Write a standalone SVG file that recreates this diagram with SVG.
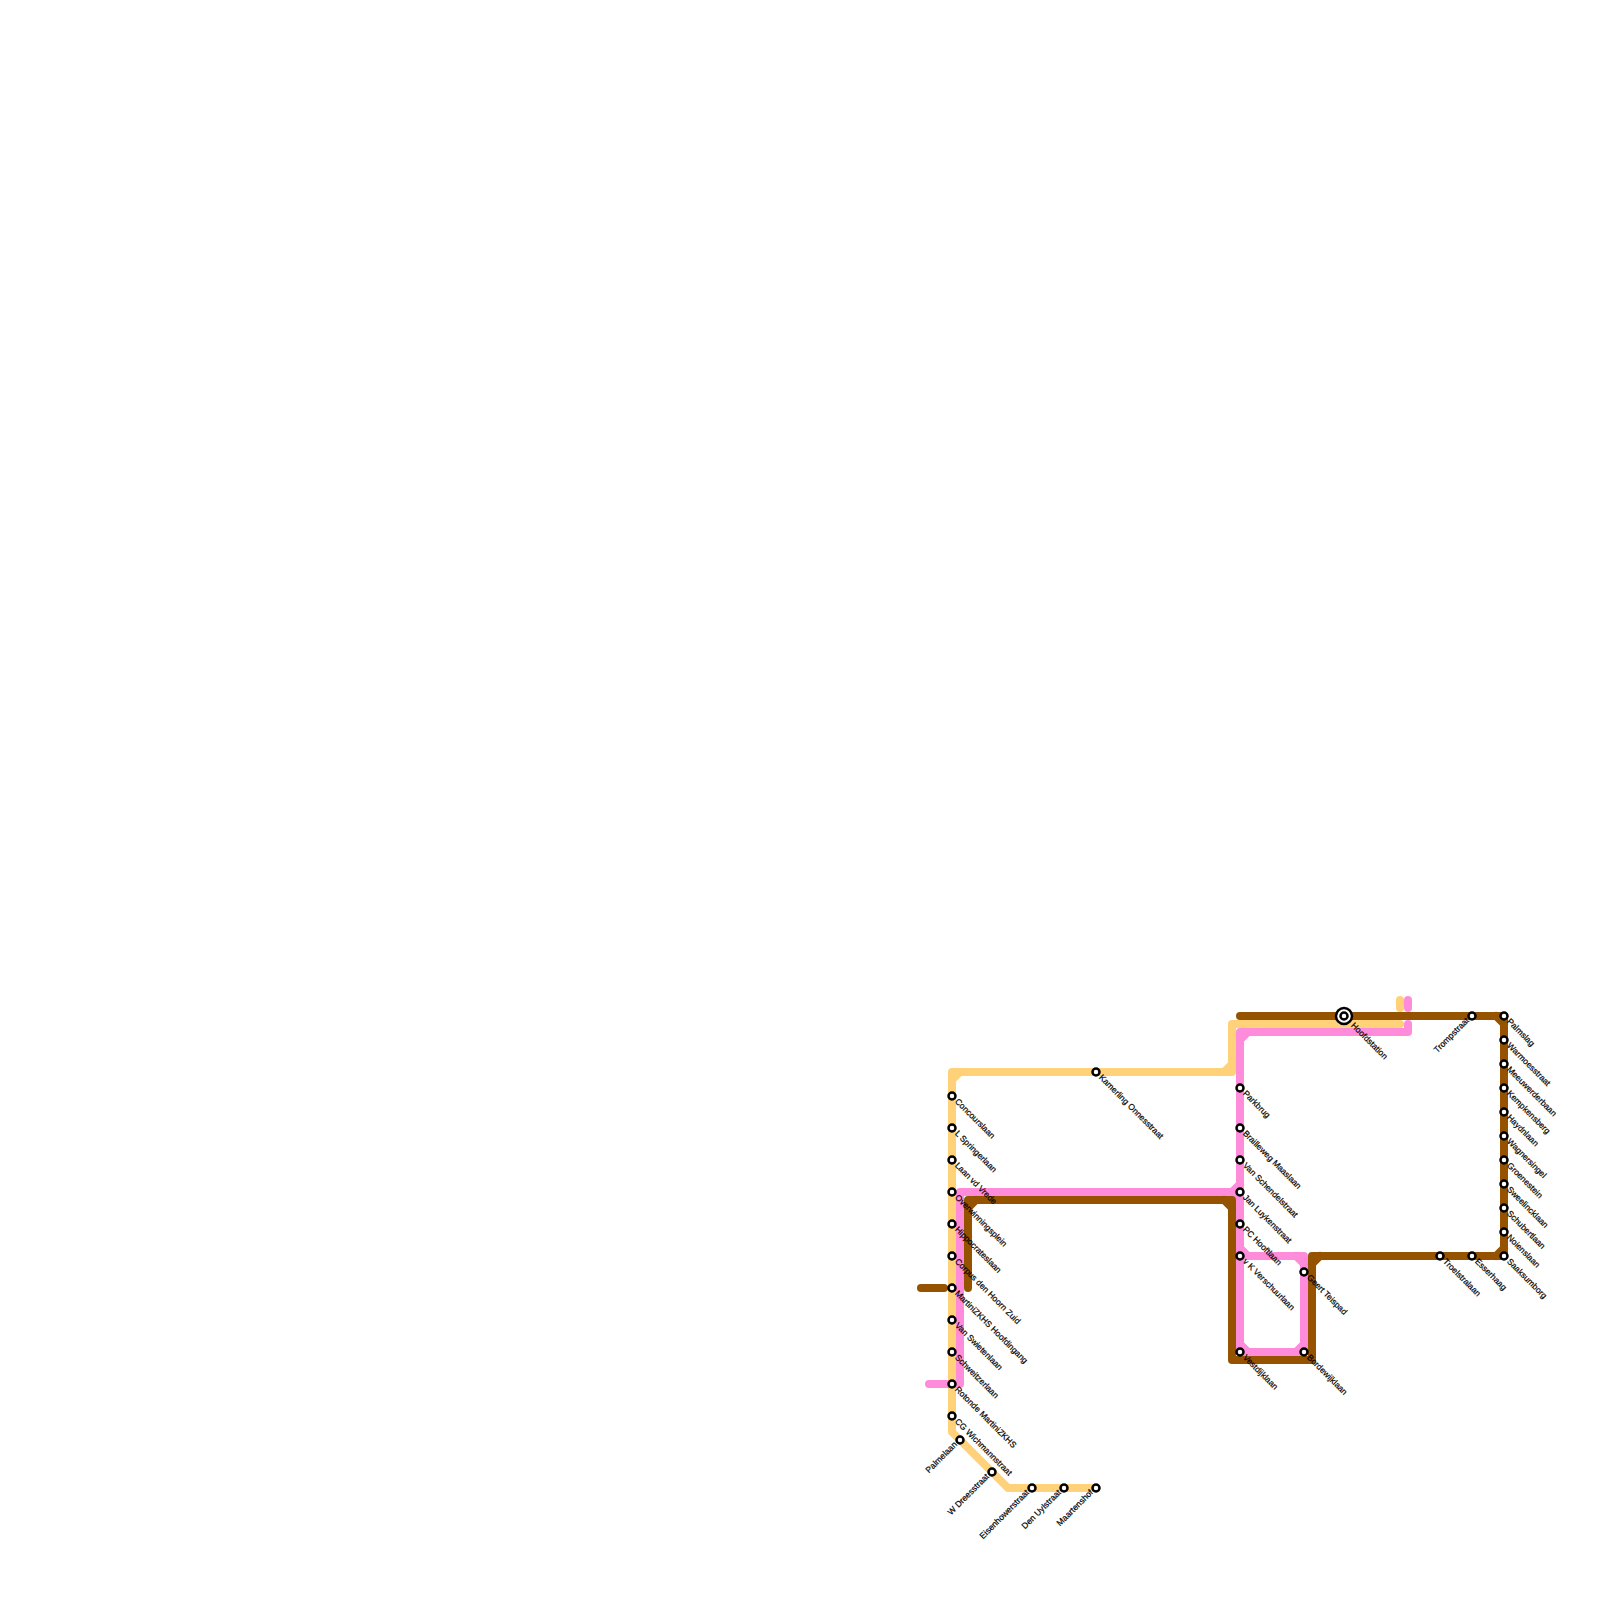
<svg xmlns="http://www.w3.org/2000/svg" width="1600" height="1600" viewBox="0 0 1600 1600">
<style>
.l{fill:none;stroke-width:8;stroke-linecap:round;stroke-linejoin:round}
.y{stroke:#ffd27a}.p{stroke:#ff8cdb}.b{stroke:#955300}
.st{fill:#fff;stroke:#000;stroke-width:2.5}
text{font-family:"Liberation Sans",Arial,sans-serif;font-size:8.5px;fill:#000;stroke:#000;stroke-width:.2;text-rendering:geometricPrecision}
.e{text-anchor:end}
</style>
<rect width="1600" height="1600" fill="#fff"/>
<g id="connectors">
<g id="line-yellow">
<path class="l y" d="M1096 1488H1008L952 1432V1072H1232V1024H1400"/>
<path class="l y" d="M952 1080L960 1072M1224 1072L1232 1064"/>
<path class="l y" d="M1400 1000V1008"/>
</g>
<g id="line-pink">
<path class="l p" d="M929 1384H960V1192H1240"/>
<path class="l p" d="M1224 1192H1232L1240 1184M1232 1192L1240 1200"/>
<path class="l p" d="M1408 1024V1032H1240V1352H1304V1256H1240"/>
<path class="l p" d="M1240 1040L1248 1032M1240 1248L1248 1256M1296 1256L1304 1264M1240 1344L1248 1352M1296 1352L1304 1344"/>
<path class="l p" d="M1408 1000V1008"/>
</g>
<g id="line-brown">
<path class="l b" d="M921 1288H944"/>
<path class="l b" d="M968 1288V1200H1232V1360H1312V1256H1504V1016H1240"/>
<path class="l b" d="M968 1208L976 1200M1224 1200L1232 1208M1312 1264L1320 1256M1496 1256L1504 1248M1496 1016L1504 1024"/>
</g>
</g>
<g id="n-concourslaan"><circle class="st" cx="952" cy="1096" r="3.5"/><text transform="translate(954.5 1102) rotate(45)">Concourslaan</text></g>
<g id="n-springerlaan"><circle class="st" cx="952" cy="1128" r="3.5"/><text transform="translate(954.5 1134) rotate(45)">L Springerlaan</text></g>
<g id="n-laanvdvrede"><circle class="st" cx="952" cy="1160" r="3.5"/><text transform="translate(954.5 1166) rotate(45)">Laan vd Vrede</text></g>
<g id="n-overwinningsplein"><circle class="st" cx="952" cy="1192" r="3.5"/><text transform="translate(954.5 1198) rotate(45)">Overwinningsplein</text></g>
<g id="n-hippocrateslaan"><circle class="st" cx="952" cy="1224" r="3.5"/><text transform="translate(954.5 1230) rotate(45)">Hippocrateslaan</text></g>
<g id="n-corpus"><circle class="st" cx="952" cy="1256" r="3.5"/><text transform="translate(954.5 1262) rotate(45)">Corpus den Hoorn Zuid</text></g>
<g id="n-hoofdingang"><circle class="st" cx="952" cy="1288" r="3.5"/><text transform="translate(954.5 1294) rotate(45)">MartiniZKHS Hoofdingang</text></g>
<g id="n-vanswieten"><circle class="st" cx="952" cy="1320" r="3.5"/><text transform="translate(954.5 1326) rotate(45)">Van Swietenlaan</text></g>
<g id="n-schweitzer"><circle class="st" cx="952" cy="1352" r="3.5"/><text transform="translate(954.5 1358) rotate(45)">Schweitzerlaan</text></g>
<g id="n-rotonde"><circle class="st" cx="952" cy="1384" r="3.5"/><text transform="translate(954.5 1390) rotate(45)">Rotonde MartiniZKHS</text></g>
<g id="n-wichmann"><circle class="st" cx="952" cy="1416" r="3.5"/><text transform="translate(954.5 1422) rotate(45)">CG Wichmannstraat</text></g>
<g id="n-palmelaan"><circle class="st" cx="960" cy="1440" r="3.5"/><text class="e" transform="translate(957.5 1445) rotate(-45)">Palmelaan</text></g>
<g id="n-dreesstraat"><circle class="st" cx="992" cy="1472" r="3.5"/><text class="e" transform="translate(989.5 1477) rotate(-45)">W Dreesstraat</text></g>
<g id="n-eisenhower"><circle class="st" cx="1032" cy="1488" r="3.5"/><text class="e" transform="translate(1029.5 1493) rotate(-45)">Eisenhowerstraat</text></g>
<g id="n-denuyl"><circle class="st" cx="1064" cy="1488" r="3.5"/><text class="e" transform="translate(1061.5 1493) rotate(-45)">Den Uylstraat</text></g>
<g id="n-maartenshof"><circle class="st" cx="1096" cy="1488" r="3.5"/><text class="e" transform="translate(1093.5 1493) rotate(-45)">Maartenshof</text></g>
<g id="n-kamerling"><circle class="st" cx="1096" cy="1072" r="3.5"/><text transform="translate(1098.5 1078) rotate(45)">Kamerling Onnesstraat</text></g>
<g id="n-parkbrug"><circle class="st" cx="1240" cy="1088" r="3.5"/><text transform="translate(1242.5 1094) rotate(45)">Parkbrug</text></g>
<g id="n-brailleweg"><circle class="st" cx="1240" cy="1128" r="3.5"/><text transform="translate(1242.5 1134) rotate(45)">Brailleweg Maaslaan</text></g>
<g id="n-schendel"><circle class="st" cx="1240" cy="1160" r="3.5"/><text transform="translate(1242.5 1166) rotate(45)">Van Schendelstraat</text></g>
<g id="n-luyken"><circle class="st" cx="1240" cy="1192" r="3.5"/><text transform="translate(1242.5 1198) rotate(45)">Jan Luykenstraat</text></g>
<g id="n-hooft"><circle class="st" cx="1240" cy="1224" r="3.5"/><text transform="translate(1242.5 1230) rotate(45)">PC Hooftlaan</text></g>
<g id="n-verschuur"><circle class="st" cx="1240" cy="1256" r="3.5"/><text transform="translate(1242.5 1262) rotate(45)">v K Verschuurlaan</text></g>
<g id="n-vestdijk"><circle class="st" cx="1240" cy="1352" r="3.5"/><text transform="translate(1242.5 1358) rotate(45)">Vestdijklaan</text></g>
<g id="n-geert"><circle class="st" cx="1304" cy="1272" r="3.5"/><text transform="translate(1306.5 1278) rotate(45)">Geert Teispad</text></g>
<g id="n-bordewijk"><circle class="st" cx="1304" cy="1352" r="3.5"/><text transform="translate(1306.5 1358) rotate(45)">Bordewijklaan</text></g>
<g id="n-hoofdstation"><circle class="st" cx="1344" cy="1016" r="8"/><circle class="st" cx="1344" cy="1016" r="3.5"/><text transform="translate(1350.5 1026) rotate(45)">Hoofdstation</text></g>
<g id="n-trompstraat"><circle class="st" cx="1472" cy="1016" r="3.5"/><text class="e" transform="translate(1469.5 1021) rotate(-45)">Trompstraat</text></g>
<g id="n-palmslag"><circle class="st" cx="1504" cy="1016" r="3.5"/><text transform="translate(1506.5 1022) rotate(45)">Palmslag</text></g>
<g id="n-warmoes"><circle class="st" cx="1504" cy="1040" r="3.5"/><text transform="translate(1506.5 1046) rotate(45)">Warmoesstraat</text></g>
<g id="n-meeuwerderbaan"><circle class="st" cx="1504" cy="1064" r="3.5"/><text transform="translate(1506.5 1070) rotate(45)">Meeuwerderbaan</text></g>
<g id="n-kempkensberg"><circle class="st" cx="1504" cy="1088" r="3.5"/><text transform="translate(1506.5 1094) rotate(45)">Kempkensberg</text></g>
<g id="n-haydnlaan"><circle class="st" cx="1504" cy="1112" r="3.5"/><text transform="translate(1506.5 1118) rotate(45)">Haydnlaan</text></g>
<g id="n-wagnersingel"><circle class="st" cx="1504" cy="1136" r="3.5"/><text transform="translate(1506.5 1142) rotate(45)">Wagnersingel</text></g>
<g id="n-groenestein"><circle class="st" cx="1504" cy="1160" r="3.5"/><text transform="translate(1506.5 1166) rotate(45)">Groenestein</text></g>
<g id="n-sweelinck"><circle class="st" cx="1504" cy="1184" r="3.5"/><text transform="translate(1506.5 1190) rotate(45)">Sweelincklaan</text></g>
<g id="n-schubert"><circle class="st" cx="1504" cy="1208" r="3.5"/><text transform="translate(1506.5 1214) rotate(45)">Schubertlaan</text></g>
<g id="n-nolens"><circle class="st" cx="1504" cy="1232" r="3.5"/><text transform="translate(1506.5 1238) rotate(45)">Noienslaan</text></g>
<g id="n-saaksum"><circle class="st" cx="1504" cy="1256" r="3.5"/><text transform="translate(1506.5 1262) rotate(45)">Saaksumborg</text></g>
<g id="n-troelstra"><circle class="st" cx="1440" cy="1256" r="3.5"/><text transform="translate(1442.5 1262) rotate(45)">Troelstralaan</text></g>
<g id="n-esserhaag"><circle class="st" cx="1472" cy="1256" r="3.5"/><text transform="translate(1474.5 1262) rotate(45)">Esserhaag</text></g>
</svg>
